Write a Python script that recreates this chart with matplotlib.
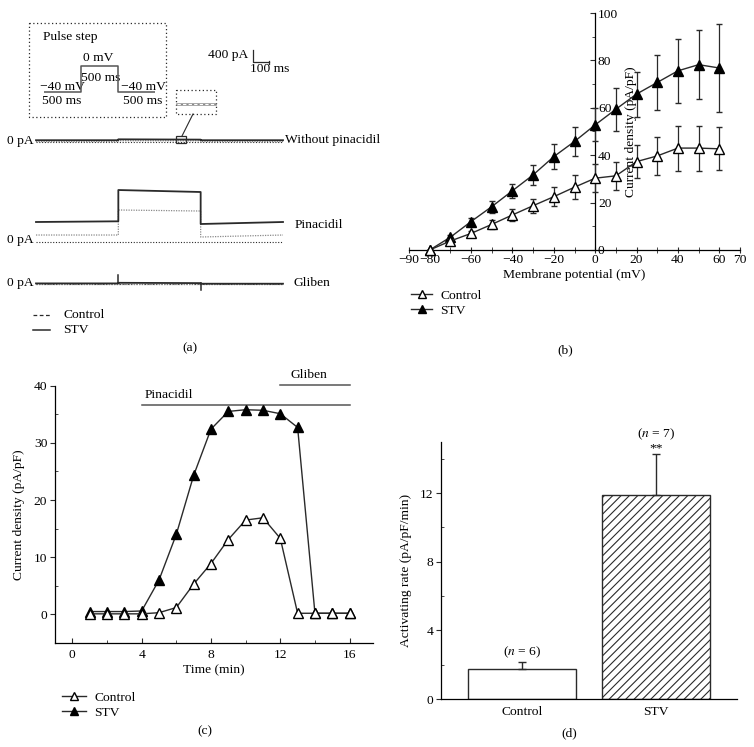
import matplotlib
matplotlib.use("Agg")
import matplotlib.pyplot as plt
from matplotlib.lines import Line2D
from matplotlib.patches import Rectangle
from matplotlib.ticker import MultipleLocator, FixedLocator

plt.rcParams['font.family'] = ['Liberation Serif', 'DejaVu Serif']
plt.rcParams['font.size'] = 9.7
plt.rcParams['mathtext.fontset'] = 'stix'
plt.rcParams['hatch.linewidth'] = 0.8
plt.rcParams['axes.linewidth'] = 0.9

INK = '#2a2a2a'
GREY = '#8a8a8a'

# ---- panel (a): raw current traces (time in ms, current in pA) ----
trace_t = [0, 500, 500, 1000, 1000, 1500]
pulse_mv = [-40, -40, 0, 0, -40, -40]
rows = ['Without pinacidil', 'Pinacidil', 'Gliben']
row_zero = [4733, 1400, 0]          # where each row's 0 pA sits
stv_trace = [[60, 60, 90, 80, 60, 60],
             [667, 690, 1733, 1667, 600, 667],
             [20, 20, 40, 30, 10, 10]]
ctl_trace = [[15, 15, 45, 40, 15, 15],
             [233, 233, 1067, 1033, 167, 233],
             [0, 0, 0, 0, 0, 0]]
gliben_spike_t = [500, 1000]
gliben_spike_pa = [300, -200]

# ---- panel (b): I-V relation ----
vm = [-80, -70, -60, -50, -40, -30, -20, -10, 0, 10, 20, 30, 40, 50, 60]
iv_ctl = [0, 3.8, 7, 10.8, 14.8, 18.7, 22.5, 26.5, 30.3, 31.3, 37.3, 39.7, 43, 43, 42.7]
iv_ctl_err = [0, 1, 1, 2, 2.5, 3, 4, 5, 6, 6, 7, 8, 9.5, 9.5, 9]
iv_stv = [0, 5.4, 12, 18.3, 25, 31.7, 39.4, 45.8, 52.8, 59.4, 65.8, 70.7, 75.6, 78.2, 76.8]
iv_stv_err = [0, 1, 1.5, 2.5, 3, 4.2, 5.4, 6.3, 7, 9, 9.5, 11.7, 13.4, 14.5, 18.5]
b_xtick_labels = [-90, -80, -60, -40, -20, 0, 20, 40, 60, 70]

# ---- panel (c): time course ----
t_min = list(range(1, 17))
tc_ctl = [0.1, 0.1, 0.1, 0.1, 0.3, 1.2, 5.3, 8.9, 13.1, 16.5, 16.9, 13.3, 0.2, 0.2, 0.2, 0.2]
tc_stv = [0.5, 0.5, 0.5, 0.6, 6.0, 14.0, 24.3, 32.4, 35.5, 35.8, 35.7, 35.1, 32.7, 0.2, 0.2, 0.2]
pinacidil_span = [4, 16]
pinacidil_level = 36.7
gliben_span = [12, 16]
gliben_level = 40.1

# ---- panel (d): activating rate ----
groups = ['Control', 'STV']
rate = [1.73, 11.88]
rate_err = [0.4, 2.4]
n_cells = [6, 7]
n_label_y = [2.74, 15.43]
star_y = 14.6

W, H = 754, 747
fig = plt.figure(figsize=(W / 100, H / 100), dpi=100)


def px_axes(x0, y0, x1, y1):
    return fig.add_axes([x0 / W, 1 - y1 / H, (x1 - x0) / W, (y1 - y0) / H])


# ================= (a) =================
ax_ann = px_axes(0, 0, 377, 360)
ax_ann.set_xlim(0, 377)
ax_ann.set_ylim(360, 0)
ax_ann.axis('off')

ax_a = px_axes(0, 0, 377, 360)
ax_a.set_xlim(-218.6, 2070.9)
ax_a.set_ylim(-2533, 9467)
ax_a.axis('off')
ax_a.patch.set_alpha(0)

for i, name in enumerate(rows):
    z = row_zero[i]
    ax_a.plot([0, 1500], [z, z], ls=(0, (1, 1.5)), color=INK, lw=0.8)
    ax_a.plot(trace_t, [z + v for v in ctl_trace[i]], ls=(0, (1, 1)), color=GREY, lw=0.9)
    ax_a.plot(trace_t, [z + v for v in stv_trace[i]], color=INK, lw=1.3)

# row labels (pixel space)
for (lbl_y, name, lx) in [(140, rows[0], 285), (225, rows[1], 295), (283, rows[2], 293)]:
    ax_ann.text(lx, lbl_y, name, ha='left', va='center')
for zy in [141, 240, 283]:
    ax_ann.text(34, zy, '0 pA', ha='right', va='center')

# gliben spikes
gz = row_zero[2]
for t_s, a in zip(gliben_spike_t, gliben_spike_pa):
    ax_a.plot([t_s, t_s], [gz + 20, gz + a], color=INK, lw=1.1)

# scale bar 400 pA / 100 ms
ax_a.plot([1318, 1318, 1418], [7800, 7400, 7400], color=INK, lw=0.9)
ax_a.plot([1418, 1418], [7350, 7450], color=INK, lw=0.9)
ax_ann.text(248, 55, '400 pA', ha='right', va='center')
ax_ann.text(270, 69, '100 ms', ha='center', va='center')

# pulse protocol box
ax_ann.add_patch(Rectangle((29, 23), 137, 94, fill=False, ls=(0, (1, 2)), lw=0.9, ec=INK))
ax_ann.text(43, 37, 'Pulse step', ha='left', va='center')
ax_p = px_axes(44, 60, 155, 100)
ax_p.set_xlim(0, 1500)
ax_p.set_ylim(-52, 10)
ax_p.axis('off')
ax_p.patch.set_alpha(0)
ax_p.plot(trace_t, pulse_mv, color='#555555', lw=1.1)
ax_ann.text(98, 58, '0 mV', ha='center', va='center')
ax_ann.text(101, 78, '500 ms', ha='center', va='center')
ax_ann.text(62, 87, '\u221240 mV', ha='center', va='center')
ax_ann.text(62, 101, '500 ms', ha='center', va='center')
ax_ann.text(143, 87, '\u221240 mV', ha='center', va='center')
ax_ann.text(143, 101, '500 ms', ha='center', va='center')

# zoom inset
ax_ann.add_patch(Rectangle((176, 90), 40, 24, fill=False, ls=(0, (1, 2)), lw=0.9, ec=INK))
ax_ann.plot([177, 215], [103.5, 103.5], color=GREY, lw=1.8)
ax_ann.plot([177, 215], [103.5, 103.5], color='white', lw=0.8, ls=(0, (3, 2)))
ax_ann.add_patch(Rectangle((176, 136), 10, 7, fill=False, lw=0.9, ec=INK))
ax_ann.plot([193, 182], [114, 136], color=INK, lw=0.8)

# legend (a)
ax_ann.plot([33, 50], [315, 315], color=INK, lw=0.9, ls=(0, (3, 2)))
ax_ann.plot([33, 50], [330, 330], color=INK, lw=1.1)
ax_ann.text(63, 315, 'Control', ha='left', va='center')
ax_ann.text(63, 330, 'STV', ha='left', va='center')

# ================= (b) =================
ax_b = px_axes(409, 13, 740, 250)
ax_b.set_xlim(-90, 70)
ax_b.set_ylim(0, 100)
ax_b.spines['left'].set_visible(False)
ax_b.spines['top'].set_visible(False)
ax_b.spines['right'].set_position(('data', 0))
ax_b.yaxis.set_ticks_position('right')
ax_b.yaxis.set_major_locator(MultipleLocator(20))
ax_b.yaxis.set_minor_locator(MultipleLocator(10))
ax_b.tick_params(axis='y', which='major', direction='in', length=3.5, pad=2, color=INK)
ax_b.tick_params(axis='y', which='minor', direction='in', length=2, color=INK)
ax_b.xaxis.set_major_locator(FixedLocator(b_xtick_labels))
ax_b.set_xticklabels([str(v).replace('-', '\u2212') for v in b_xtick_labels])
ax_b.xaxis.set_minor_locator(MultipleLocator(10))
ax_b.tick_params(axis='x', which='both', direction='inout', length=4, pad=1, color=INK)
ax_b.errorbar(vm, iv_stv, yerr=iv_stv_err, color=INK, lw=1, marker='^', ms=6.5,
              mfc='black', mec='black', capsize=2.5, elinewidth=0.9, clip_on=False, zorder=3)
ax_b.errorbar(vm, iv_ctl, yerr=iv_ctl_err, color=INK, lw=1, marker='^', ms=6.5,
              mfc='white', mec='black', capsize=2.5, elinewidth=0.9, clip_on=False, zorder=4)
ax_b.set_xlabel('Membrane potential (mV)', labelpad=2)
ax_b.set_ylabel('Current density (pA/pF)')
ax_b.yaxis.set_label_coords(0.69, 0.5)

fig.legend(handles=[Line2D([], [], color=INK, lw=1, marker='^', ms=6, mfc='white', mec='black'),
                    Line2D([], [], color=INK, lw=1, marker='^', ms=6, mfc='black', mec='black')],
           labels=['Control', 'STV'], loc='upper left', bbox_to_anchor=(404 / W, 1 - 283 / H),
           frameon=False, handlelength=1.6, handletextpad=0.6, labelspacing=0.15, borderpad=0)

# ================= (c) =================
ax_c = px_axes(55, 385.7, 373, 643)
ax_c.set_xlim(-1, 17.35)
ax_c.set_ylim(-5, 40)
for s in ['top', 'right']:
    ax_c.spines[s].set_visible(False)
ax_c.xaxis.set_major_locator(MultipleLocator(4))
ax_c.xaxis.set_minor_locator(MultipleLocator(2))
ax_c.yaxis.set_major_locator(MultipleLocator(10))
ax_c.yaxis.set_minor_locator(MultipleLocator(5))
ax_c.tick_params(axis='x', which='major', direction='in', length=3.5, color=INK, pad=4)
ax_c.tick_params(axis='x', which='minor', direction='in', length=2, color=INK)
ax_c.tick_params(axis='y', which='major', direction='out', length=3.5, color=INK, pad=2)
ax_c.tick_params(axis='y', which='minor', direction='in', length=2, color=INK)
ax_c.plot(t_min, tc_ctl, color=INK, lw=1, marker='^', ms=6.5, mfc='white', mec='black', zorder=4)
ax_c.plot(t_min, tc_stv, color=INK, lw=1, marker='^', ms=6.5, mfc='black', mec='black', zorder=3)
ax_c.plot(pinacidil_span, [pinacidil_level] * 2, color='#555555', lw=1.1, clip_on=False)
ax_c.plot(gliben_span, [gliben_level] * 2, color='#555555', lw=1.1, clip_on=False)
ax_c.text(4.2, pinacidil_level + 0.6, 'Pinacidil', ha='left', va='bottom')
ax_c.text(12.6, gliben_level + 0.8, 'Gliben', ha='left', va='bottom')
ax_c.set_xlabel('Time (min)', labelpad=3)
ax_c.set_ylabel('Current density (pA/pF)', labelpad=6)

fig.legend(handles=[Line2D([], [], color=INK, lw=1, marker='^', ms=6, mfc='white', mec='black'),
                    Line2D([], [], color=INK, lw=1, marker='^', ms=6, mfc='black', mec='black')],
           labels=['Control', 'STV'], loc='upper left', bbox_to_anchor=(55 / W, 1 - 685 / H),
           frameon=False, handlelength=1.8, handletextpad=0.6, labelspacing=0.15, borderpad=0)

# ================= (d) =================
ax_d = px_axes(441, 441.5, 737, 699)
ax_d.set_xlim(-0.6, 1.6)
ax_d.set_ylim(0, 15)
for s in ['top', 'right']:
    ax_d.spines[s].set_visible(False)
ax_d.yaxis.set_major_locator(MultipleLocator(4))
ax_d.yaxis.set_minor_locator(MultipleLocator(2))
ax_d.tick_params(axis='y', which='major', direction='out', length=3.5, color=INK, pad=2)
ax_d.tick_params(axis='y', which='minor', direction='in', length=2, color=INK)
ax_d.tick_params(axis='x', length=0, pad=5)
xs = [0, 1]
ax_d.bar(xs, rate, width=0.8, color='white', edgecolor=INK, lw=1, hatch=['', '////'])
ax_d.errorbar(xs, rate, yerr=[[0, 0], rate_err], fmt='none', ecolor=INK, elinewidth=1,
              capsize=3, capthick=1)
ax_d.set_xticks(xs)
ax_d.set_xticklabels(groups)
for x, ny, n in zip(xs, n_label_y, n_cells):
    ax_d.text(x, ny, '($n$ = %d)' % n, ha='center', va='center', clip_on=False)
ax_d.text(1, star_y, '**', ha='center', va='center')
ax_d.set_ylabel('Activating rate (pA/pF/min)', labelpad=6)

# panel letters
fig.text(190 / W, 1 - 348 / H, '(a)', ha='center', va='center')
fig.text(565 / W, 1 - 350 / H, '(b)', ha='center', va='center')
fig.text(205 / W, 1 - 731 / H, '(c)', ha='center', va='center')
fig.text(569 / W, 1 - 733 / H, '(d)', ha='center', va='center')

fig.savefig('out.png', dpi=100)
